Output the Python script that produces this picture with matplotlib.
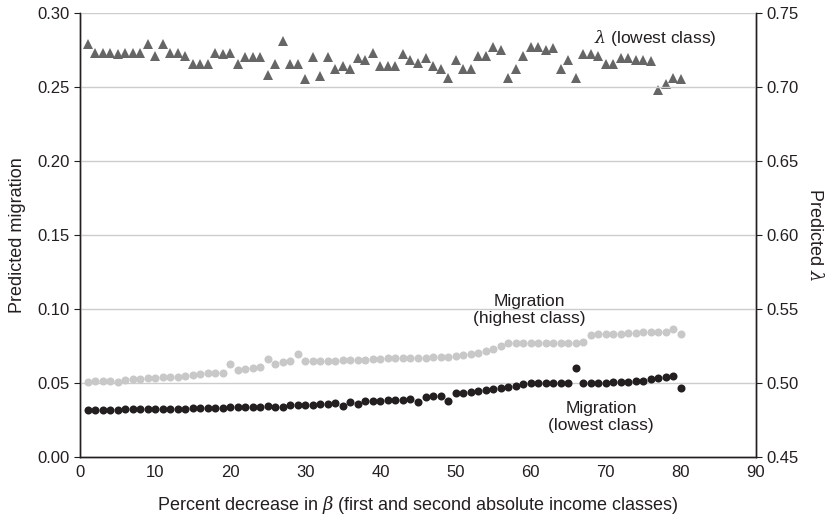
import numpy as np
import matplotlib.pyplot as plt

plt.rcParams['font.family'] = ['Liberation Sans', 'DejaVu Sans']
plt.rcParams['mathtext.fontset'] = 'dejavuserif'

# percent decrease in beta
pct = list(range(1, 81))

# predicted lambda (lowest class), right axis
lam_low = [
    0.729, 0.723, 0.723, 0.723, 0.722, 0.723, 0.723, 0.723, 0.729, 0.721,
    0.729, 0.723, 0.723, 0.721, 0.715, 0.715, 0.715, 0.723, 0.722, 0.723,
    0.715, 0.720, 0.720, 0.720, 0.708, 0.715, 0.731, 0.715, 0.715, 0.705,
    0.720, 0.707, 0.720, 0.712, 0.714, 0.712, 0.719, 0.718, 0.723, 0.714,
    0.714, 0.714, 0.722, 0.718, 0.716, 0.719, 0.714, 0.712, 0.706, 0.718,
    0.712, 0.712, 0.721, 0.721, 0.727, 0.725, 0.706, 0.712, 0.721, 0.727,
    0.727, 0.725, 0.726, 0.712, 0.718, 0.706, 0.722, 0.722, 0.721, 0.715,
    0.715, 0.719, 0.719, 0.718, 0.718, 0.717, 0.698, 0.702, 0.706, 0.705,
]

# predicted migration, highest class
mig_high = [
    0.0507, 0.0511, 0.0511, 0.0511, 0.0507, 0.0518, 0.0523, 0.0523, 0.0530, 0.0534,
    0.0536, 0.0540, 0.0540, 0.0547, 0.0552, 0.0556, 0.0563, 0.0568, 0.0568, 0.0624,
    0.0586, 0.0592, 0.0600, 0.0608, 0.0658, 0.0624, 0.0642, 0.0646, 0.0692, 0.0646,
    0.0646, 0.0648, 0.0648, 0.0648, 0.0653, 0.0653, 0.0653, 0.0653, 0.0657, 0.0662,
    0.0665, 0.0665, 0.0667, 0.0667, 0.0668, 0.0668, 0.0671, 0.0671, 0.0676, 0.0680,
    0.0690, 0.0694, 0.0703, 0.0715, 0.0726, 0.0748, 0.0771, 0.0771, 0.0771, 0.0771,
    0.0771, 0.0771, 0.0771, 0.0771, 0.0771, 0.0771, 0.0775, 0.0822, 0.0826, 0.0826,
    0.0830, 0.0830, 0.0833, 0.0838, 0.0840, 0.0845, 0.0845, 0.0845, 0.0861, 0.0829,
]

# predicted migration, lowest class
mig_low = [
    0.0316, 0.0316, 0.0316, 0.0316, 0.0316, 0.0320, 0.0320, 0.0320, 0.0320, 0.0320,
    0.0322, 0.0322, 0.0325, 0.0325, 0.0327, 0.0327, 0.0327, 0.0329, 0.0329, 0.0334,
    0.0334, 0.0338, 0.0338, 0.0338, 0.0343, 0.0338, 0.0334, 0.0347, 0.0349, 0.0349,
    0.0352, 0.0354, 0.0356, 0.0361, 0.0343, 0.0370, 0.0356, 0.0374, 0.0376, 0.0379,
    0.0381, 0.0381, 0.0386, 0.0390, 0.0370, 0.0406, 0.0410, 0.0410, 0.0376, 0.0428,
    0.0433, 0.0439, 0.0446, 0.0451, 0.0458, 0.0464, 0.0473, 0.0480, 0.0489, 0.0496,
    0.0500, 0.0500, 0.0500, 0.0500, 0.0500, 0.0597, 0.0500, 0.0500, 0.0500, 0.0500,
    0.0505, 0.0505, 0.0507, 0.0511, 0.0514, 0.0523, 0.0529, 0.0536, 0.0545, 0.0462,
]

fig = plt.figure(figsize=(8.36, 5.25), dpi=100)
ax = fig.add_axes([0.0957, 0.130, 0.8086, 0.846])
ax2 = ax.twinx()

ax.set_zorder(ax2.get_zorder() + 1)
ax.patch.set_visible(False)

ax.plot(pct, mig_high, 'o', color='#c8c8c8', markersize=5.8, markeredgewidth=0, zorder=3)
ax.plot(pct, mig_low, 'o', color='#231f20', markersize=5.8, markeredgewidth=0, zorder=3)
ax2.plot(pct, lam_low, '^', color='#666666', markersize=7.5, markeredgewidth=0)

ax.set_xlim(0, 90)
ax.set_ylim(0, 0.30)
ax2.set_ylim(0.45, 0.75)
ax.set_xticks(np.arange(0, 91, 10))
ax.set_yticks(np.arange(0, 0.301, 0.05))
ax2.set_yticks(np.arange(0.45, 0.751, 0.05))
ax.yaxis.set_major_formatter(plt.FormatStrFormatter('%.2f'))
ax2.yaxis.set_major_formatter(plt.FormatStrFormatter('%.2f'))

ax.grid(axis='y', color='#cccccc', linewidth=1.0, zorder=0)
ax.set_axisbelow(True)

for a in (ax, ax2):
    a.spines['top'].set_visible(False)
    for s in ('left', 'right', 'bottom'):
        a.spines[s].set_color('#231f20')
        a.spines[s].set_linewidth(1.0)

ax.tick_params(axis='x', length=0, labelsize=12, pad=6, colors='#231f20')
ax.tick_params(axis='y', length=4, labelsize=12, colors='#231f20')
ax2.tick_params(axis='y', length=4, labelsize=12, colors='#231f20')

ax.set_xlabel(r'Percent decrease in $\beta$ (first and second absolute income classes)',
              fontsize=13, labelpad=10, color='#231f20')
ax.set_ylabel('Predicted migration', fontsize=13, labelpad=8, color='#231f20')
ax2.set_ylabel(r'Predicted $\lambda$', fontsize=13, rotation=270, labelpad=18, color='#231f20')

# series labels
ax2.text(76.6, 0.7327, r'$\lambda$ (lowest class)', fontsize=12.5, ha='center', va='center',
         color='#231f20')
ax.text(59.8, 0.099, 'Migration\n(highest class)', fontsize=12.5, ha='center', va='center',
        color='#231f20', linespacing=1.2)
ax.text(69.4, 0.0268, 'Migration\n(lowest class)', fontsize=12.5, ha='center', va='center',
        color='#231f20', linespacing=1.2)

fig.savefig('out.png', dpi=100)
